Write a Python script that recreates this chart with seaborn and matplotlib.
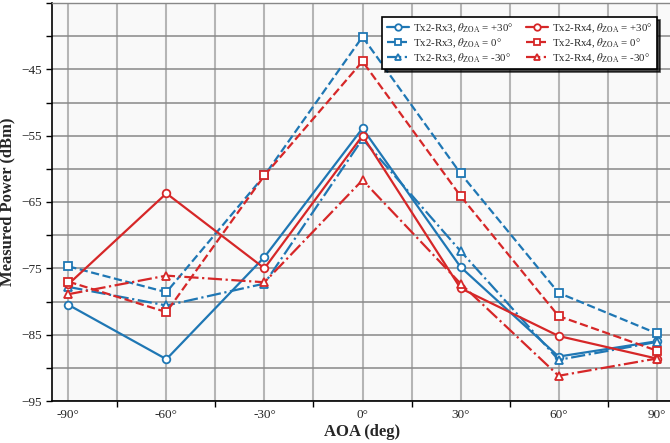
import numpy as np
import pandas as pd
import matplotlib
matplotlib.use("Agg")
import matplotlib.pyplot as plt
from matplotlib.ticker import MultipleLocator, FuncFormatter
import seaborn as sns

# ---- data ----
aoa = [-90, -60, -30, 0, 30, 60, 90]
rx3_p30 = [-80.5, -88.7, -73.3, -53.9, -74.8, -88.3, -86.0]
rx3_0 = [-74.7, -78.6, -61.0, -40.1, -60.7, -78.7, -84.8]
rx3_m30 = [-77.8, -80.6, -77.3, -55.5, -72.4, -88.8, -86.1]
rx4_p30 = [-77.4, -63.7, -75.0, -55.0, -78.0, -85.2, -88.6]
rx4_0 = [-77.0, -81.6, -61.0, -43.8, -64.1, -82.2, -87.4]
rx4_m30 = [-78.9, -76.1, -77.1, -61.7, -77.3, -91.2, -88.6]

labels = [
    r"Tx2-Rx3, $\theta_{\rm ZOA}$ = +30°",
    r"Tx2-Rx3, $\theta_{\rm ZOA}$ = 0°",
    r"Tx2-Rx3, $\theta_{\rm ZOA}$ = -30°",
    r"Tx2-Rx4, $\theta_{\rm ZOA}$ = +30°",
    r"Tx2-Rx4, $\theta_{\rm ZOA}$ = 0°",
    r"Tx2-Rx4, $\theta_{\rm ZOA}$ = -30°",
]
series = [rx3_p30, rx3_0, rx3_m30, rx4_p30, rx4_0, rx4_m30]

sns.set_style("white")
plt.rcParams["font.family"] = ["Liberation Serif", "DejaVu Serif"]
plt.rcParams["mathtext.fontset"] = "stix"
plt.rcParams["axes.unicode_minus"] = True

blue = "#1f77b4"
red = "#d62728"
colors = [blue, blue, blue, red, red, red]
markers = ["o", "s", "^", "o", "s", "^"]
styles = ["-", "--", "-.", "-", "--", "-."]

fig = plt.figure(figsize=(6.7, 4.43), dpi=100)
ax = fig.add_axes([52 / 670, 1 - 401 / 443, (673 - 52) / 670, (401 - 3) / 443])
ax.set_facecolor("#f9f9f9")

for vals, lab, c, m, ls in zip(series, labels, colors, markers, styles):
    df = pd.DataFrame({"AOA": aoa, "P": vals})
    sns.lineplot(data=df, x="AOA", y="P", ax=ax, color=c, marker=m, linestyle=ls,
                 linewidth=1.6, markersize=5.5, markerfacecolor="white",
                 markeredgecolor=c, markeredgewidth=1.3, label=lab)

ax.set_xlim(-95, 95)
ax.set_ylim(-95, -35)
ax.xaxis.set_major_locator(MultipleLocator(30))
ax.xaxis.set_minor_locator(MultipleLocator(15))
ax.set_yticks([-45, -55, -65, -75, -85, -95])
ax.yaxis.set_minor_locator(MultipleLocator(5))
ax.xaxis.set_major_formatter(FuncFormatter(lambda v, p: f"{int(v)}°"))
ax.yaxis.set_major_formatter(FuncFormatter(lambda v, p: f"\u2212{abs(int(v))}"))

ax.grid(True, axis="x", which="both", color="#b5b5b5", linewidth=1.5)
ax.grid(True, axis="y", which="both", color="#888888", linewidth=1.1)
ax.set_axisbelow(True)

for s in ["left", "bottom"]:
    ax.spines[s].set_color("black")
    ax.spines[s].set_linewidth(1.2)
ax.spines["top"].set_color("#888888")
ax.spines["top"].set_linewidth(1.0)
ax.spines["right"].set_visible(False)

ax.tick_params(axis="both", which="both", direction="out", length=4, width=1,
               color="black", labelsize=9.5, left=True, bottom=True)
ax.tick_params(axis="x", which="major", length=0, pad=6)

ax.set_xlabel("AOA (deg)", fontsize=12, fontweight="bold", labelpad=2)
ax.set_ylabel("Measured Power (dBm)", fontsize=12, fontweight="bold", labelpad=4)

leg = ax.legend(ncol=2, loc="upper right", bbox_to_anchor=(0.974, 0.965),
                borderaxespad=0, fontsize=7.8, frameon=True, fancybox=False,
                shadow={"color": "black", "alpha": 0.7}, edgecolor="black",
                markerscale=0.85, handlelength=2.1, columnspacing=1.1,
                labelspacing=0.15, borderpad=0.4, handletextpad=0.35)
leg.get_frame().set_linewidth(1.2)
leg.get_frame().set_alpha(1)

fig.savefig("out.png", dpi=100)
